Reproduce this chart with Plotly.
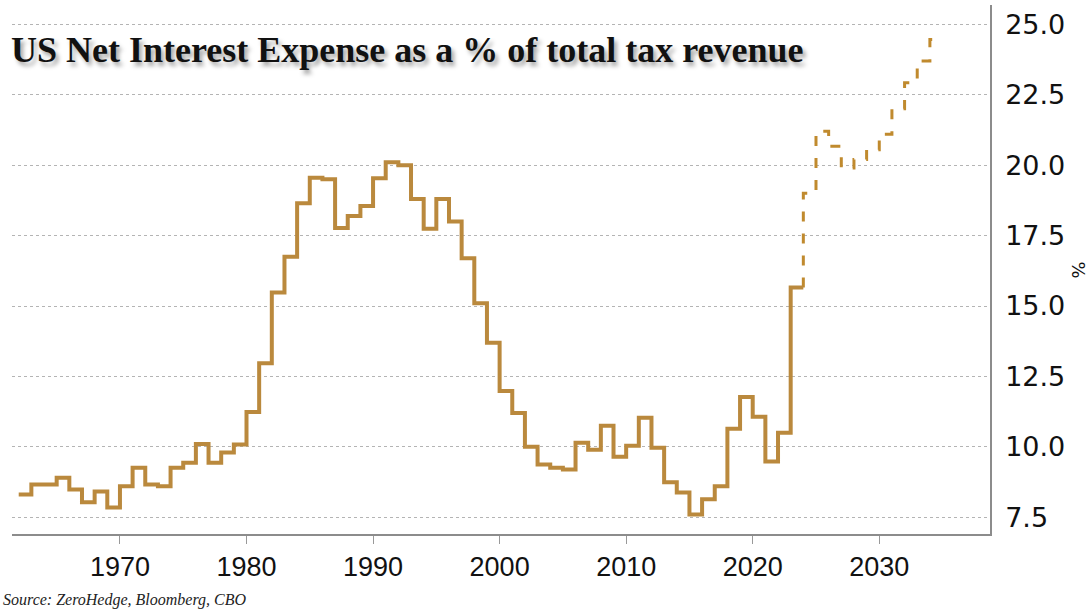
import plotly.graph_objects as go

# ---- data ----
hist_years = list(range(1962, 2024))
hist_values = [8.31, 8.66, 8.66, 8.9, 8.49, 8.03, 8.42, 7.85, 8.6, 9.26,
               8.66, 8.6, 9.26, 9.44, 10.1, 9.44, 9.8, 10.08, 11.24, 12.97,
               15.48, 16.75, 18.65, 19.55, 19.5, 17.77, 18.2, 18.55, 19.54, 20.1,
               20.0, 18.8, 17.74, 18.8, 18.0, 16.7, 15.1, 13.7, 11.98, 11.2,
               10.0, 9.37, 9.26, 9.2, 10.15, 9.9, 10.75, 9.65, 10.04, 11.03,
               9.97, 8.74, 8.38, 7.6, 8.14, 8.6, 10.64, 11.77, 11.07, 9.48,
               10.5, 15.66]

proj_years = list(range(2024, 2035))
proj_values = [19.0, 21.2, 20.67, 19.9, 20.2, 20.55, 21.1, 22.0, 22.93, 23.7, 24.46]

x_tick_vals = [1970, 1980, 1990, 2000, 2010, 2020, 2030]
x_tick_text = ["1970", "1980", "1990", "2000", "2010", "2020", "2030"]
y_tick_vals = [7.5, 10.0, 12.5, 15.0, 17.5, 20.0, 22.5, 25.0]
y_tick_text = ["7.5", "10.0", "12.5", "15.0", "17.5", "20.0", "22.5", "25.0"]

title_text = "US Net Interest Expense as a % of total tax revenue"
source_text = "Source: ZeroHedge, Bloomberg, CBO"
unit_text = "%"

LINE_COLOR = "#BA893D"
DASH_COLOR = "#C08A2E"

# step traces: each year's value is held until the next year
solid_x = hist_years + [hist_years[-1] + 1]
solid_y = hist_values + [hist_values[-1]]
dash_x = [proj_years[0]] + proj_years + [proj_years[-1] + 1]
dash_y = [hist_values[-1]] + proj_values + [proj_values[-1]]

fig = go.Figure()
fig.add_trace(go.Scatter(
    x=dash_x, y=dash_y, mode="lines", line_shape="hv",
    line=dict(color=DASH_COLOR, width=3, dash="10px,12px"),
    hoverinfo="skip", showlegend=False))
fig.add_trace(go.Scatter(
    x=solid_x, y=solid_y, mode="lines", line_shape="hv",
    line=dict(color=LINE_COLOR, width=4),
    showlegend=False))

fig.update_layout(
    width=1090, height=610,
    margin=dict(l=12, r=100, t=5, b=76, autoexpand=False),
    paper_bgcolor="white", plot_bgcolor="white",
    showlegend=False,
    xaxis=dict(
        range=[1961.47, 2038.75],
        tickmode="array", tickvals=x_tick_vals, ticktext=x_tick_text,
        ticks="outside", ticklen=8, tickwidth=1, tickcolor="#999999",
        showline=True, linecolor="#8c8c8c", linewidth=1.5,
        showgrid=False, zeroline=False,
        tickfont=dict(family="Liberation Sans Narrow, Arial Narrow, Liberation Sans", size=27, color="#111111"),
    ),
    yaxis=dict(
        range=[6.907, 25.686], side="right",
        tickmode="array", tickvals=y_tick_vals, ticktext=y_tick_text,
        ticks="", ticklabelstandoff=8,
        showline=True, linecolor="#8c8c8c", linewidth=1.5,
        showgrid=True, gridcolor="#b4b4b4", gridwidth=1.2, griddash="dot",
        zeroline=False,
        tickfont=dict(family="DejaVu Sans", size=27, color="#111111"),
    ),
    annotations=[
        dict(text="<b>" + title_text + "</b>", xref="paper", yref="paper",
             x=0, y=0.915, xanchor="left", yanchor="middle", xshift=-3,
             showarrow=False,
             font=dict(family="Liberation Serif", size=36, color="#111111",
                       shadow="3px 4px 4px rgba(0,0,0,0.35)")),
        dict(text="<i>" + source_text + "</i>", xref="paper", yref="paper",
             x=0, y=0, xanchor="left", yanchor="middle", xshift=-11, yshift=-66,
             showarrow=False,
             font=dict(family="Liberation Serif", size=16, color="#222222")),
        dict(text=unit_text, xref="paper", yref="paper",
             x=1, y=0.5, xanchor="center", yanchor="middle", xshift=88,
             textangle=90, showarrow=False,
             font=dict(family="DejaVu Sans", size=18, color="#111111")),
    ],
)

fig.write_html(
    "out.html",
    config={"displayModeBar": False},
    post_script="document.body.style.margin='0';document.body.style.padding='0';"
                "document.documentElement.style.overflow='hidden';",
)
